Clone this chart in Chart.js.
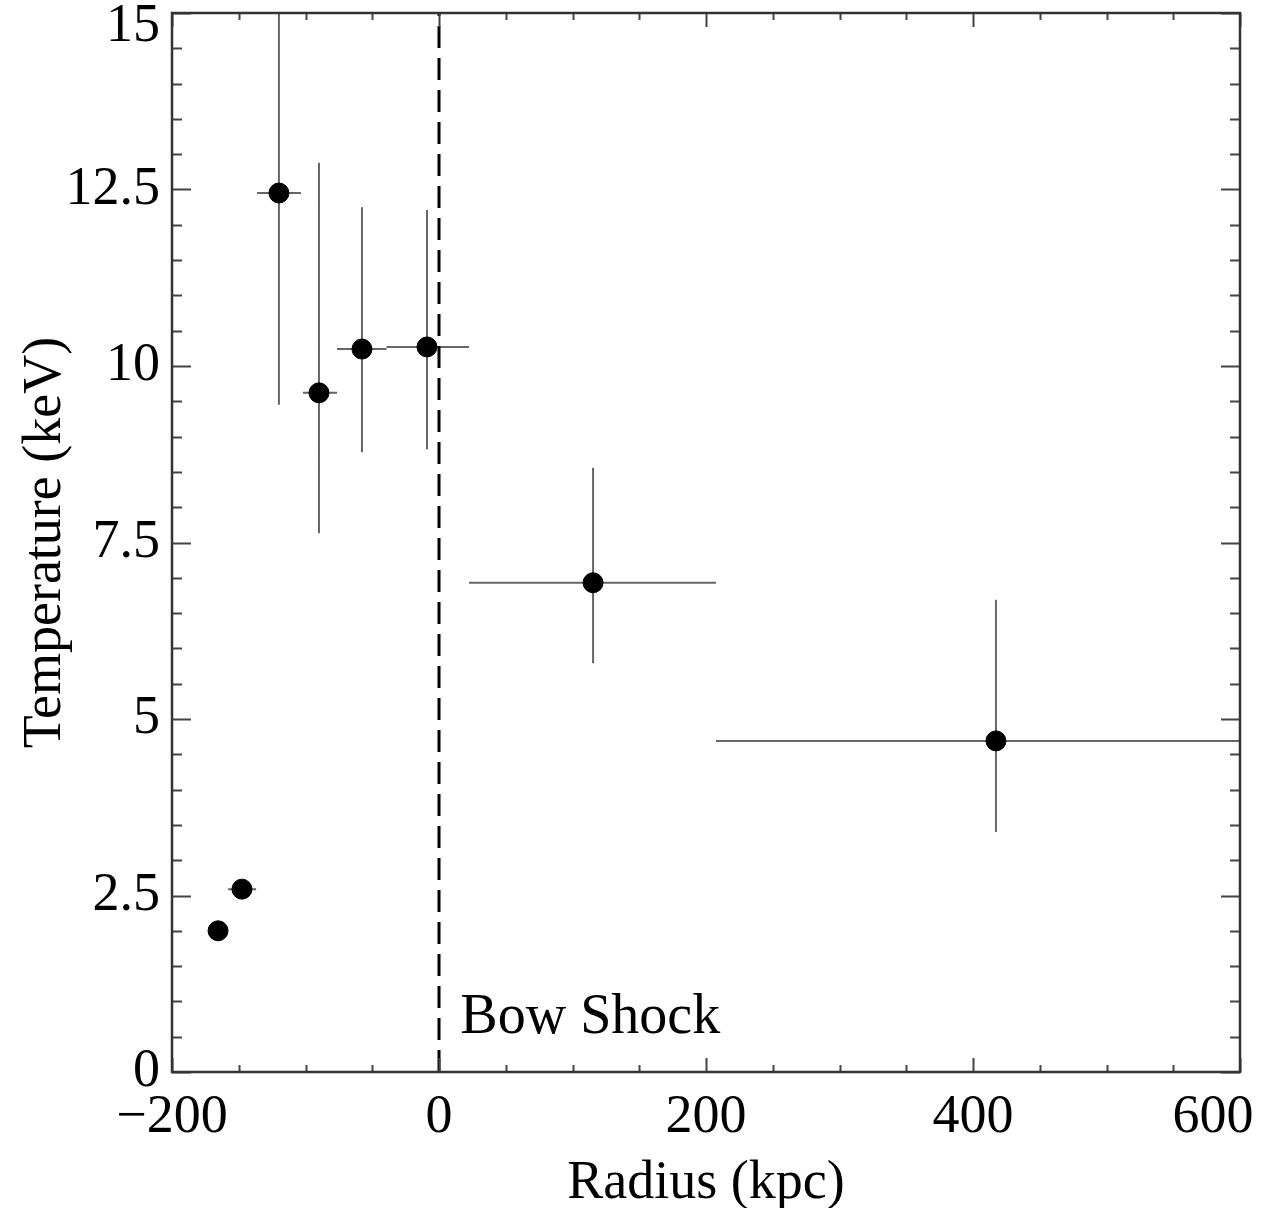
<!DOCTYPE html>
<html>
<head>
<meta charset="utf-8">
<script src="https://cdn.jsdelivr.net/npm/chart.js@4/dist/chart.umd.min.js"></script>
<style>
  html, body { margin: 0; padding: 0; background: #fff; }
  canvas { display: block; }
</style>
</head>
<body>
<canvas id="tempchart" width="1268" height="1208"></canvas>
<script>
// measured profile: radius (kpc), temperature (keV) and error bar ends
var radius   = [-165.5, -147.6, -119.9, -89.9, -57.7, -9.0, 115.4, 417.2];
var temp     = [2.0, 2.59, 12.45, 9.62, 10.24, 10.27, 6.93, 4.69];
var radiusLo = [-165.5, -158.0, -136.3, -101.9, -76.4, -39.3, 22.5, 207.5];
var radiusHi = [-165.5, -137.0, -103.4, -76.4, -39.3, 22.5, 207.5, 640];
var tempLo   = [2.0, 2.59, 9.45, 7.63, 8.78, 8.82, 5.79, 3.40];
var tempHi   = [2.0, 2.59, 16.0, 12.88, 12.25, 12.21, 8.56, 6.69];

// bow shock marker
var shockRadius = [0, 0];
var shockTemp = [0, 15];
var shockLabel = "Bow Shock";
var shockLabelAt = [16, 0.55];

// axes
var xRange = [-200, 600];
var yRange = [0, 15];
var xTitle = "Radius (kpc)";
var yTitle = "Temperature (keV)";

var FONT = "'Liberation Serif', 'Times New Roman', serif";

var points = radius.map(function (r, i) { return { x: r, y: temp[i] }; });
var shockLine = shockRadius.map(function (r, i) { return { x: r, y: shockTemp[i] }; });

// error bars, drawn under the dots
var errorBars = {
  id: "errorBars",
  beforeDatasetsDraw: function (chart) {
    var ctx = chart.ctx, a = chart.chartArea;
    var x = chart.scales.x, y = chart.scales.y;
    ctx.save();
    ctx.beginPath();
    ctx.rect(a.left, a.top, a.right - a.left, a.bottom - a.top);
    ctx.clip();
    ctx.strokeStyle = "#666";
    ctx.lineWidth = 2;
    ctx.beginPath();
    for (var i = 0; i < radius.length; i++) {
      var px = x.getPixelForValue(radius[i]);
      var py = y.getPixelForValue(temp[i]);
      ctx.moveTo(x.getPixelForValue(radiusLo[i]), py);
      ctx.lineTo(x.getPixelForValue(radiusHi[i]), py);
      ctx.moveTo(px, y.getPixelForValue(tempLo[i]));
      ctx.lineTo(px, y.getPixelForValue(tempHi[i]));
    }
    ctx.stroke();
    ctx.restore();
  },
  afterDatasetsDraw: function (chart) {
    var ctx = chart.ctx;
    var x = chart.scales.x, y = chart.scales.y;
    ctx.save();
    ctx.fillStyle = "#000";
    ctx.font = "56px " + FONT;
    ctx.textAlign = "left";
    ctx.textBaseline = "alphabetic";
    ctx.fillText(shockLabel, x.getPixelForValue(shockLabelAt[0]), y.getPixelForValue(shockLabelAt[1]));
    ctx.restore();
  }
};

// box frame with inward ticks on all four sides
var frameTicks = {
  id: "frameTicks",
  afterDraw: function (chart) {
    var ctx = chart.ctx, a = chart.chartArea;
    var x = chart.scales.x, y = chart.scales.y;
    ctx.save();
    ctx.strokeStyle = "#444";
    ctx.lineWidth = 2;
    ctx.beginPath();
    for (var i = 0; i <= 16; i++) {
      var v = xRange[0] + i * 50;
      var px = Math.round(x.getPixelForValue(v)) + 0.5;
      var len = (i % 4 === 0) ? 14 : 7;
      ctx.moveTo(px, a.bottom); ctx.lineTo(px, a.bottom - len);
      ctx.moveTo(px, a.top); ctx.lineTo(px, a.top + len);
    }
    for (var j = 0; j <= 30; j++) {
      var py = Math.round(y.getPixelForValue(j * 0.5)) + 0.5;
      var l = (j % 5 === 0) ? 19 : 10;
      ctx.moveTo(a.left, py); ctx.lineTo(a.left + l, py);
      ctx.moveTo(a.right, py); ctx.lineTo(a.right - l, py);
    }
    ctx.stroke();
    ctx.strokeStyle = "#333";
    ctx.lineWidth = 2.5;
    ctx.strokeRect(a.left, a.top, a.right - a.left, a.bottom - a.top);
    ctx.restore();
  }
};

new Chart(document.getElementById("tempchart"), {
  type: "scatter",
  data: {
    datasets: [
      {
        data: points,
        backgroundColor: "#000",
        borderColor: "#000",
        pointRadius: 10,
        pointHoverRadius: 10
      },
      {
        type: "line",
        data: shockLine,
        borderColor: "#000",
        borderWidth: 3,
        borderDash: [22, 10],
        pointRadius: 0,
        fill: false
      }
    ]
  },
  options: {
    responsive: false,
    animation: false,
    devicePixelRatio: 1,
    layout: { padding: { left: 0, right: 28, top: 13, bottom: 0 } },
    plugins: { legend: { display: false }, tooltip: { enabled: false } },
    scales: {
      x: {
        type: "linear",
        min: xRange[0],
        max: xRange[1],
        grid: { display: false, drawTicks: false },
        border: { display: false },
        ticks: {
          stepSize: 200,
          autoSkip: false,
          maxRotation: 0,
          padding: 13,
          color: "#000",
          font: { family: FONT, size: 54 },
          callback: function (v) {
            if (v < 0) return "\u2212" + Math.abs(v);
            if (v === xRange[1]) return v + "    ";
            return String(v);
          }
        },
        title: {
          display: true,
          text: xTitle,
          color: "#000",
          font: { family: FONT, size: 54, lineHeight: 0.9 },
          padding: { top: 0, bottom: 0 }
        },
        afterFit: function (s) {
          s.height = 136;
          s.paddingLeft = 0;
          s.paddingRight = 0;
        }
      },
      y: {
        type: "linear",
        min: yRange[0],
        max: yRange[1],
        grid: { display: false, drawTicks: false },
        border: { display: false },
        ticks: {
          stepSize: 2.5,
          autoSkip: false,
          padding: 12,
          color: "#000",
          font: function (c) {
            var top = c.tick && c.tick.value === yRange[1];
            return { family: FONT, size: 54, lineHeight: top ? 0.52 : 1.2 };
          },
          callback: function (v) {
            if (v === yRange[1]) return ["", String(v)];
            return String(v);
          }
        },
        title: {
          display: true,
          text: yTitle,
          color: "#000",
          font: { family: FONT, size: 54 },
          padding: { top: 13, bottom: 0 }
        },
        afterFit: function (s) {
          s.width = 172;
          s.paddingTop = 0;
          s.paddingBottom = 0;
        }
      }
    }
  },
  plugins: [errorBars, frameTicks]
});
</script>
</body>
</html>
